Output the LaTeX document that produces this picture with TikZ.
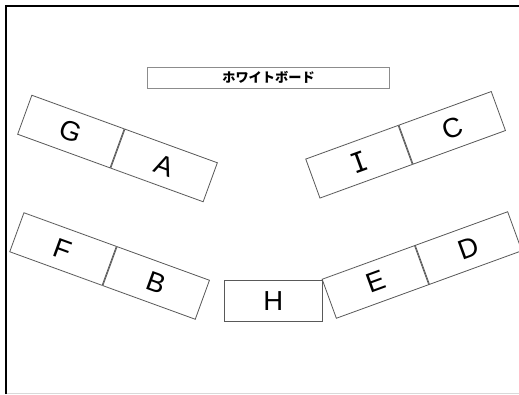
\documentclass[tikz,border=0pt]{standalone}
\usepackage{fontspec}
\setmainfont{Liberation Sans}
\newfontfamily\jpfont{Noto Sans CJK JP}
\newfontfamily\serifI{DejaVu Sans Mono}
\begin{document}
\begin{tikzpicture}[x=1pt,y=-1pt,
  cell/.style={draw=black!65, line width=0.8pt, rectangle, inner sep=0pt,
    minimum width=98.3pt, minimum height=41.5pt,
    font=\fontsize{27.5}{31}\selectfont},
  board/.style={draw=black!45, line width=0.9pt, rectangle, inner sep=0pt,
    minimum width=242pt, minimum height=21pt,
    font=\jpfont\bfseries\fontsize{13.2}{15}\selectfont}]
\useasboundingbox (0,0) rectangle (519,394);
\fill[white] (0,0) rectangle (519,394);
% frame
\draw[line width=2pt, black] (6,394) -- (6,6) -- (519,6);
\draw[line width=0.6pt, black!15] (7,393.5) -- (519,393.5);
% whiteboard
\node[board] (wb) at (268.5,77.8) {ホワイトボード};
% G-A
\node[cell, rotate=-20, anchor=east] (G) at (117.5,148.5) {G};
\node[cell, rotate=-20, anchor=west] (A) at (117.5,148.5) {A};
% F-B
\node[cell, rotate=-20, anchor=east] (F) at (109.6,266) {F};
\node[cell, rotate=-20, anchor=west] (B) at (109.6,266) {B};
% I-C
\node[cell, rotate=20, anchor=east] (I) at (405.6,144.8) {\serifI I};
\node[cell, rotate=20, anchor=west] (C) at (405.6,144.8) {C};
% H
\node[cell] (H) at (273.2,301) {H};
% E-D
\node[cell, rotate=20, anchor=east] (E) at (422,265) {E};
\node[cell, rotate=20, anchor=west] (D) at (422,265) {D};
\end{tikzpicture}
\end{document}
